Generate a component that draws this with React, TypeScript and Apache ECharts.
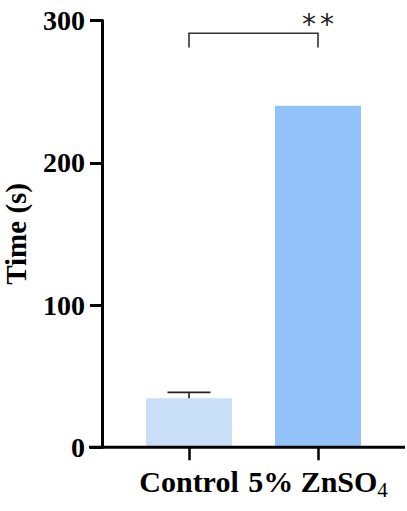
import React, { useEffect, useRef } from "react";
import * as echarts from "echarts";

const categories = ["Control", "5% ZnSO4"];
const means = [34.4, 240];
const errors = [4.2, 0];
const barColors = ["#c9dff8", "#93c1f9"];
const yTicks = { min: 0, max: 300, interval: 100 };
const sigLabel = "**";
const bracketTop = 291;
const bracketLegBottom = 281;
const sigTextValue = 297;

const SERIF = "'Liberation Serif', 'Times New Roman', serif";

export default function App() {
  const ref = useRef<HTMLDivElement>(null);
  useEffect(() => {
    if (!ref.current) return;
    const chart = echarts.init(ref.current, undefined, { renderer: "svg" });
    const option: any = {
      animation: false,
      backgroundColor: "#ffffff",
      grid: { left: 124.5, right: 24.5, top: 20.5, bottom: 63.7, containLabel: false, outerBoundsMode: "none" },
      xAxis: {
        type: "category",
        data: categories,
        axisLine: { show: false },
        axisTick: { show: true, alignWithLabel: true, length: 13, lineStyle: { color: "#000", width: 2.5 } },
        axisLabel: {
          margin: 19,
          interval: 0,
          formatter: (v: string) =>
            v === "5% ZnSO4" ? "{m|5% ZnSO}{s|4}" : "{m|" + v + "}",
          rich: {
            m: { fontFamily: SERIF, fontWeight: "bold", fontSize: 30, color: "#000", verticalAlign: "bottom", padding: [0, 0, 4, 0] },
            s: { fontFamily: SERIF, fontWeight: "normal", fontSize: 21, color: "#000", verticalAlign: "bottom" },
          },
        },
      },
      yAxis: {
        type: "value",
        min: yTicks.min,
        max: yTicks.max,
        interval: yTicks.interval,
        offset: 22.5,
        name: "Time (s)",
        nameLocation: "middle",
        nameGap: 72,
        nameRotate: 90,
        nameTextStyle: { fontFamily: SERIF, fontWeight: "bold", fontSize: 29, color: "#000" },
        axisLine: { show: true, lineStyle: { color: "#000", width: 3 } },
        axisTick: { show: true, length: 12, lineStyle: { color: "#000", width: 3 } },
        splitLine: { show: false },
        axisLabel: { margin: 17, fontFamily: SERIF, fontWeight: "bold", fontSize: 28, color: "#000" },
      },
      series: [
        {
          type: "bar",
          barWidth: 86,
          data: means.map((v, i) => ({ value: v, itemStyle: { color: barColors[i] } })),
        },
        {
          type: "custom",
          data: means.map((m, i) => [i, m, errors[i]]),
          z: 5,
          renderItem: (params: any, api: any) => {
            const idx = api.value(0);
            const m = api.value(1);
            const e = api.value(2);
            if (!e) return null;
            const base = api.coord([idx, m]);
            const top = api.coord([idx, m + e]);
            const half = api.size([1, 0])[0] / 6;
            const style = { stroke: "#222", lineWidth: 1.6 };
            return {
              type: "group",
              children: [
                { type: "line", shape: { x1: base[0], y1: base[1], x2: top[0], y2: top[1] }, style },
                { type: "line", shape: { x1: top[0] - half, y1: top[1], x2: top[0] + half, y2: top[1] }, style },
              ],
            };
          },
        },
      ],
    };
    chart.setOption(option);

    const p0 = chart.convertToPixel({ gridIndex: 0 }, [0, bracketTop]) as number[];
    const p1 = chart.convertToPixel({ gridIndex: 0 }, [1, bracketTop]) as number[];
    const leg = chart.convertToPixel({ gridIndex: 0 }, [0, bracketLegBottom]) as number[];
    const txt = chart.convertToPixel({ gridIndex: 0 }, [0.5, sigTextValue]) as number[];
    const zero = chart.convertToPixel({ gridIndex: 0 }, [0, 0]) as number[];
    const bStyle = { stroke: "#333", lineWidth: 1.6, fill: "none" };
    const chars = sigLabel.split("");
    const pitch = 18;
    chart.setOption({
      graphic: [
        { type: "line", shape: { x1: 89, y1: zero[1], x2: 405, y2: zero[1] }, style: { stroke: "#000", lineWidth: 3 }, z: 10 },
        {
          type: "polyline",
          shape: { points: [[p0[0], leg[1]], [p0[0], p0[1]], [p1[0], p1[1]], [p1[0], leg[1]]] },
          style: bStyle,
        },
        ...chars.map((c, i) => ({
          type: "text",
          x: txt[0] + (i - (chars.length - 1) / 2) * pitch,
          y: txt[1],
          style: {
            text: c,
            fontFamily: "'DejaVu Sans', sans-serif",
            fontSize: 28,
            fill: "#222",
            textAlign: "center",
            textVerticalAlign: "middle",
          },
        })),
      ],
    });
    return () => chart.dispose();
  }, []);
  return <div ref={ref} style={{ width: 407, height: 511, position: "absolute", left: 0, top: 0 }} />;
}
